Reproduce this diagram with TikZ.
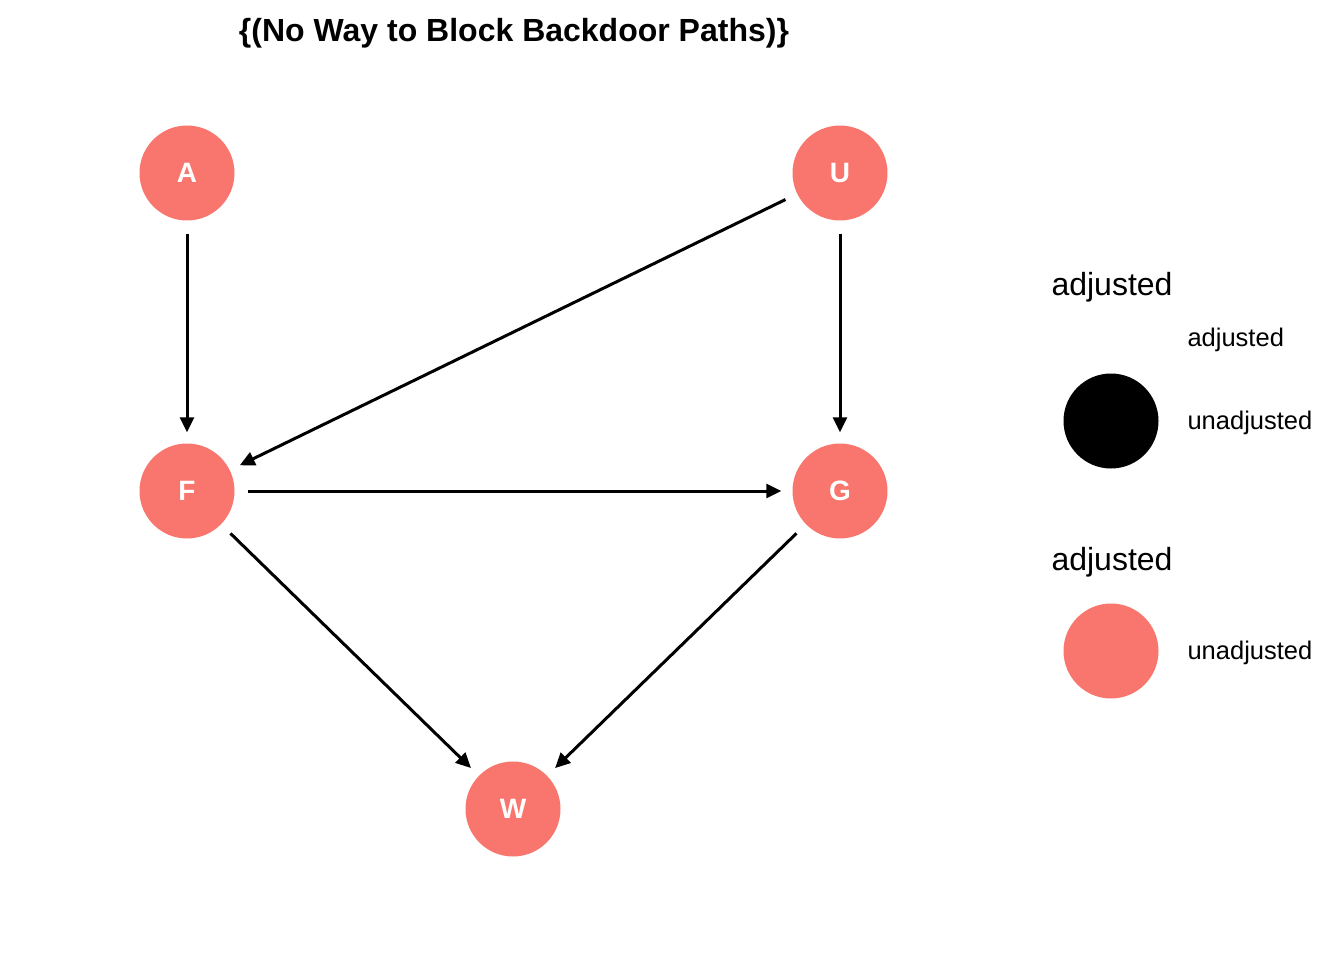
\documentclass[tikz,border=0pt]{standalone}
\usepackage{fontspec}
\setmainfont{Liberation Sans}
\usetikzlibrary{arrows.meta}
\definecolor{unadj}{HTML}{F8766D}

\begin{document}
\begin{tikzpicture}[x=1pt, y=-1pt,
    dagnode/.style={circle, fill=unadj, minimum size=95pt, inner sep=0pt,
        text=white, font=\fontsize{28}{32}\selectfont\bfseries},
    legnode/.style={circle, minimum size=95pt, inner sep=0pt},
    dagedge/.style={line width=3pt, -{Triangle[length=15pt,width=14pt]},
        shorten <=13pt, shorten >=11pt}]
    % Canvas
    \useasboundingbox (0,0) rectangle (1344,960);

    % Title
    \node[font=\fontsize{32}{36}\selectfont\bfseries] (title) at (514,33) {\{(No Way to Block Backdoor Paths)\}};

    % Nodes
    \node[dagnode] (A) at (187,173) {A};
    \node[dagnode] (U) at (840,173) {U};
    \node[dagnode] (F) at (187,491) {F};
    \node[dagnode] (G) at (840,491) {G};
    \node[dagnode] (W) at (513,809) {W};

    % Edges
    \draw[dagedge] (A) -- (F);
    \draw[dagedge] (U) -- (F);
    \draw[dagedge] (U) -- (G);
    \draw[dagedge] (F) -- (G);
    \draw[dagedge] (F) -- (W);
    \draw[dagedge] (G) -- (W);

    % Legend (first)
    \node[font=\fontsize{32}{36}\selectfont] (legA) at (1112,287) {adjusted};
    \node[legnode, fill=black] (legdotA) at (1111,421) {};
    \node[font=\fontsize{25.5}{30}\selectfont, anchor=west] (legAadj) at (1184,340) {adjusted};
    \node[font=\fontsize{25.5}{30}\selectfont, anchor=west] (legAun) at (1184,423) {unadjusted};

    % Legend (second)
    \node[font=\fontsize{32}{36}\selectfont] (legB) at (1112,562) {adjusted};
    \node[legnode, fill=unadj] (legdotB) at (1111,651) {};
    \node[font=\fontsize{25.5}{30}\selectfont, anchor=west] (legBun) at (1184,653) {unadjusted};
\end{tikzpicture}
\end{document}
